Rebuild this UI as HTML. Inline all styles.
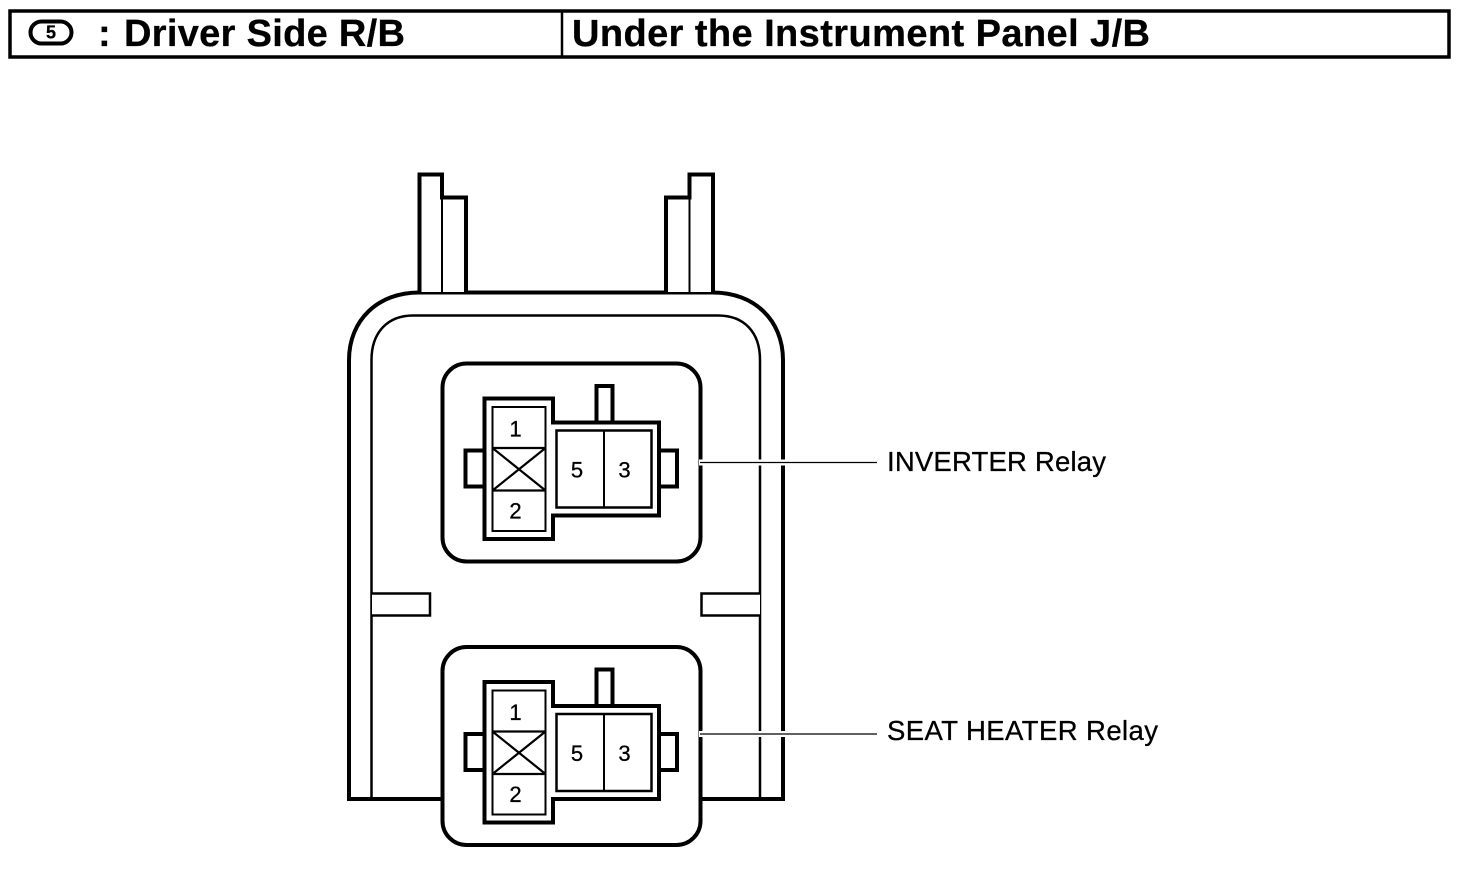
<!DOCTYPE html>
<html><head><meta charset="utf-8"><style>
html,body{margin:0;padding:0;background:#fff}
svg{display:block}
text{font-family:"Liberation Sans",sans-serif;fill:#000;stroke:#000;stroke-width:.3}
</style></head><body>
<svg width="1472" height="876" viewBox="0 0 1472 876" xmlns="http://www.w3.org/2000/svg">
<defs>
<g id="relay">
  <rect x="442.500" y="363.500" width="258" height="198" rx="24" ry="24" fill="#fff" stroke="#000" stroke-width="4"/>
  <rect x="465.500" y="450.500" width="20" height="36" fill="#fff" stroke="#000" stroke-width="4"/>
  <rect x="657" y="450.500" width="20" height="36" fill="#fff" stroke="#000" stroke-width="4"/>
  <rect x="596.500" y="386" width="16" height="38" fill="#fff" stroke="#000" stroke-width="4"/>
  <path d="M484.500 398.500H553V422.500H659V515.500H553V539H484.500Z" fill="#fff" stroke="#000" stroke-width="4"/>
  <rect x="492.500" y="407" width="53" height="124" fill="#fff" stroke="#000" stroke-width="2"/>
  <path d="M492.500 448H545.500M492.500 490.500H545.500M492.500 448L545.500 490.500M545.500 448L492.500 490.500" fill="none" stroke="#000" stroke-width="2.200"/>
  <rect x="556.500" y="430.500" width="95" height="77" fill="#fff" stroke="#000" stroke-width="2.500"/>
  <path d="M604 430.500V507.500" stroke="#000" stroke-width="2"/>
  <text x="515.500" y="436.500" font-size="22" text-anchor="middle">1</text>
  <text x="515.500" y="518.500" font-size="22" text-anchor="middle">2</text>
  <text x="577" y="477.500" font-size="22" text-anchor="middle">5</text>
  <text x="624.500" y="477.500" font-size="22" text-anchor="middle">3</text>
</g>
</defs>

<rect x="10" y="11" width="1439" height="46" fill="#fff" stroke="#000" stroke-width="3.500"/>
<path d="M562 11V57" stroke="#000" stroke-width="2.500"/>
<rect x="30.500" y="21.500" width="41" height="22" rx="11" ry="11" fill="#fff" stroke="#000" stroke-width="4"/>
<text x="51" y="38.500" font-size="18" font-weight="bold" text-anchor="middle">5</text>
<text x="98" y="46" font-size="38" font-weight="bold">:</text>
<text x="124" y="46" font-size="38" font-weight="bold" textLength="281" lengthAdjust="spacing">Driver Side R/B</text>
<text x="572" y="46" font-size="38" font-weight="bold" textLength="578" lengthAdjust="spacing">Under the Instrument Panel J/B</text>

<!-- body -->
<path d="M349 799V360C349 320 378 292.500 419 292.500H713C754 292.500 783 320 783 360V799Z" fill="#fff" stroke="#000" stroke-width="4"/>
<path d="M371.500 799V360C371.500 332 388 315.500 413 315.500H718C744 315.500 760 332 760 360V799" fill="none" stroke="#000" stroke-width="2.500"/>
<!-- posts -->
<path d="M419.500 292V174.500H442V197.500H466V292" fill="#fff" stroke="#000" stroke-width="4"/>
<path d="M442 197V292" stroke="#000" stroke-width="2"/>
<path d="M666 292V197.500H689.500V174.500H713 V292" fill="#fff" stroke="#000" stroke-width="4"/>
<path d="M689.500 197V292" stroke="#000" stroke-width="2"/>
<!-- side clips -->
<path d="M372 593.500H430V615.500H372" fill="#fff" stroke="#000" stroke-width="2.500"/>
<path d="M760 593.500H701.500V615.500H760" fill="#fff" stroke="#000" stroke-width="2.500"/>

<use href="#relay"/>
<use href="#relay" y="283.500"/>
<rect x="492" y="731" width="54" height="44" fill="none"/>

<!-- leaders -->
<rect x="699" y="459.500" width="90" height="6" fill="#fff"/>
<path d="M700 462.500H877" stroke="#000" stroke-width="1.200"/>
<rect x="699" y="731" width="90" height="6" fill="#fff"/>
<path d="M700 734H877" stroke="#000" stroke-width="1.200"/>
<text x="887" y="471" font-size="27.500" textLength="219" lengthAdjust="spacing">INVERTER Relay</text>
<text x="887" y="740" font-size="27.500" textLength="271" lengthAdjust="spacing">SEAT HEATER Relay</text>
</svg>
</body></html>
